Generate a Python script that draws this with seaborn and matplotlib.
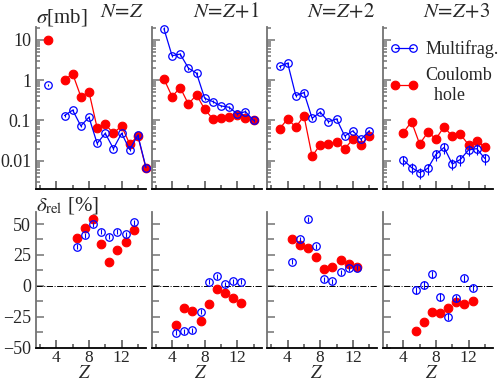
import pandas as pd
import seaborn as sns
import matplotlib
matplotlib.use('Agg')
import matplotlib.pyplot as plt
from matplotlib.ticker import MultipleLocator, LogLocator, NullFormatter, FuncFormatter

# panel titles
titles = [r'$N\!=\!Z$', r'$N\!=\!Z\!+\!1$', r'$N\!=\!Z\!+\!2$', r'$N\!=\!Z\!+\!3$']

# top row: cross sections [mb]
z_top = [
    [3, 5, 6, 7, 8, 9, 10, 11, 12, 13, 14, 15],
    [3, 4, 5, 6, 7, 8, 9, 10, 11, 12, 13, 14],
    [3, 4, 5, 6, 7, 8, 9, 10, 11, 12, 13, 14],
    [4, 5, 6, 7, 8, 9, 10, 11, 12, 13, 14],
]
multi_sigma = [
    [0.76, 0.132, 0.18, 0.073, 0.12, 0.027, 0.048, 0.020, 0.048, 0.019, 0.043, 0.0068],
    [18.7, 4.0, 4.4, 1.98, 1.48, 0.355, 0.293, 0.229, 0.212, 0.145, 0.165, 0.10],
    [2.17, 2.63, 0.41, 0.49, 0.113, 0.16, 0.093, 0.109, 0.041, 0.055, 0.034, 0.055],
    [0.0104, 0.0068, 0.0051, 0.0065, 0.0144, 0.0214, 0.0083, 0.0108, 0.0186, 0.020, 0.0114],
]
coul_sigma = [
    [10.0, 1.0, 1.43, 0.39, 0.51, 0.066, 0.080, 0.048, 0.073, 0.026, 0.041, 0.0065],
    [1.07, 0.39, 0.65, 0.255, 0.43, 0.19, 0.109, 0.113, 0.12, 0.137, 0.113, 0.10],
    [0.062, 0.109, 0.068, 0.13, 0.013, 0.025, 0.026, 0.029, 0.020, 0.034, 0.025, 0.042],
    [0.050, 0.093, 0.026, 0.051, 0.035, 0.070, 0.040, 0.045, 0.025, 0.031, 0.022],
]
line_start = [5, 3, 3, 4]          # first Z joined by a line
multi_err_frac = [0.08, 0.08, 0.08, 0.3]
coul_err_frac = [0.04, 0.04, 0.04, 0.2]

# bottom row: relative deviation [%]
z_bot = [
    [6.5, 7.5, 8.5, 9.5, 10.5, 11.5, 12.5, 13.5],
    [4.5, 5.5, 6.5, 7.5, 8.5, 9.5, 10.5, 11.5, 12.5],
    [4.5, 5.5, 6.5, 7.5, 8.5, 9.5, 10.5, 11.5, 12.5],
    [5.5, 6.5, 7.5, 8.5, 9.5, 10.5, 11.5, 12.5],
]
multi_rel = [
    [31.7, 41, 49.8, 43.8, 39.8, 43.8, 41.7, 51.5],
    [-38, -36.7, -35.9, -21, 3.2, 7.8, 1.1, 3.8, 3.2],
    [19.4, 37.5, 53.7, 32.1, 5.4, 3.8, 10.8, 14, 14.6],
    [-3.8, 0.5, 9.2, -9.2, -25.1, -10.2, 5.9, -1.6],
]
coul_rel = [
    [38.5, 46.6, 53.9, 33.8, 19, 29, 35.7, 45.2],
    [-31.8, -18.3, -20.5, -28.6, -15.1, -2.7, -6.2, -10.2, -14.3],
    [37.5, 33.4, 30.2, 23.5, 13.2, 15.4, 20.8, 17.8, 15.1],
    [-36.4, -29.1, -21, -22.4, -18.3, -13.5, -14.6, -12.1],
]
multi_rel_err = [2, 2, 2, 3]

sns.set_style('ticks')
plt.rcParams['font.family'] = ['Liberation Serif', 'DejaVu Serif']
plt.rcParams['mathtext.fontset'] = 'stix'

W, H = 498, 382
fig = plt.figure(figsize=(W / 100, H / 100), dpi=100)
lefts = [36, 151.7, 267.3, 383]
pw = 110
top_axes = [fig.add_axes([l / W, (H - 189) / H, pw / W, (189 - 26.7) / H]) for l in lefts]
bot_axes = [fig.add_axes([l / W, (H - 347.5) / H, pw / W, (347.5 - 211.7) / H]) for l in lefts]

red_kw = dict(color='red', marker='o', markersize=6.2, markerfacecolor='red',
              markeredgecolor='red', markeredgewidth=0.8, linewidth=0.9)
blue_kw = dict(color='blue', marker='o', markersize=5.4, markerfacecolor='none',
               markeredgecolor='blue', markeredgewidth=0.9, linewidth=0.9)


def style_axes(ax):
    ax.spines['top'].set_visible(False)
    ax.spines['right'].set_visible(False)
    ax.spines['left'].set_color('0.45')
    ax.spines['left'].set_linewidth(1.3)
    ax.spines['bottom'].set_color('black')
    ax.spines['bottom'].set_linewidth(1.3)
    ax.tick_params(which='both', direction='in', top=False, right=False, labelsize=13)
    ax.tick_params(axis='y', which='both', color='0.45', width=1.1)
    ax.tick_params(axis='x', which='both', color='0.3', width=1.1)
    ax.tick_params(which='major', length=5.5)
    ax.tick_params(which='minor', length=3)
    ax.xaxis.set_major_locator(MultipleLocator(4))
    ax.xaxis.set_minor_locator(MultipleLocator(2))
    ax.set_xlim(1.5, 15)


for i, ax in enumerate(top_axes):
    df = pd.DataFrame({'Z': z_top[i], 'multi': multi_sigma[i], 'coul': coul_sigma[i]})
    # isolated points before the connected run
    iso = df[df['Z'] < line_start[i]]
    run = df[df['Z'] >= line_start[i]]
    for part in (iso, run):
        if len(part) == 0:
            continue
        ls = '-' if part is run else 'none'
        sns.lineplot(data=part, x='Z', y='coul', ax=ax, sort=False, estimator=None,
                     legend=False, linestyle=ls, clip_on=False, zorder=3,
                     label='Coulomb\n  hole' if (i == 3 and part is run) else None, **red_kw)
        sns.lineplot(data=part, x='Z', y='multi', ax=ax, sort=False, estimator=None,
                     legend=False, linestyle=ls, clip_on=False, zorder=4,
                     label='Multifrag.' if (i == 3 and part is run) else None, **blue_kw)
    ax.errorbar(df['Z'], df['coul'], yerr=df['coul'] * coul_err_frac[i], fmt='none',
                ecolor='red', elinewidth=0.8, zorder=2)
    ax.errorbar(df['Z'], df['multi'], yerr=df['multi'] * multi_err_frac[i], fmt='none',
                ecolor='blue', elinewidth=0.8, zorder=5)
    ax.set_yscale('log')
    ax.set_ylim(0.002, 21)
    style_axes(ax)
    ax.yaxis.set_major_locator(LogLocator(base=10, numticks=10))
    ax.yaxis.set_minor_locator(LogLocator(base=10, subs=range(2, 10), numticks=50))
    ax.yaxis.set_minor_formatter(NullFormatter())
    ax.tick_params(which='major', length=6)
    ax.set_xlabel('')
    ax.set_ylabel('')
    ax.tick_params(labelbottom=False)
    if i == 0:
        ax.set_yticks([0.01, 0.1, 1, 10])
        ax.set_yticklabels(['0.01', '0.1', '1', '10'])
    else:
        ax.tick_params(labelleft=False)
    fig.text((lefts[i] + pw - 2) / W, 1 - 17 / H, titles[i], ha='right', va='baseline',
             fontsize=15)

for i, ax in enumerate(bot_axes):
    df = pd.DataFrame({'Z': z_bot[i], 'multi': multi_rel[i], 'coul': coul_rel[i]})
    ax.axhline(0, color='black', linewidth=0.7, linestyle='-.', zorder=1)
    sns.lineplot(data=df, x='Z', y='coul', ax=ax, sort=False, estimator=None, legend=False,
                 linestyle='none', zorder=3, **red_kw)
    sns.lineplot(data=df, x='Z', y='multi', ax=ax, sort=False, estimator=None, legend=False,
                 linestyle='none', zorder=4, **blue_kw)
    ax.errorbar(df['Z'], df['multi'], yerr=multi_rel_err[i], fmt='none', ecolor='blue',
                elinewidth=0.8, zorder=5)
    ax.set_ylim(-50, 60)
    style_axes(ax)
    ax.yaxis.set_major_locator(MultipleLocator(25))
    ax.yaxis.set_minor_locator(MultipleLocator(12.5))
    ax.tick_params(axis='y', which='minor', length=5)
    ax.xaxis.set_major_formatter(FuncFormatter(lambda v, p: r'$\mathregular{%d}$' % v))
    ax.set_ylabel('')
    ax.set_xlabel('')
    ax.tick_params(axis='x', pad=1.5, labelsize=12.5)
    if i != 0:
        ax.tick_params(labelleft=False)
    fig.text((lefts[i] + pw / 2 - 6) / W, 0.5 / H, '$Z$', ha='center', va='bottom',
             fontsize=13.5)

fig.text(36 / W, 1 - 22 / H, r'$\sigma$[mb]', ha='left', va='baseline', fontsize=15)
fig.text(36 / W, 1 - 210 / H, r'$\delta_{\rm rel}$ [%]', ha='left', va='baseline', fontsize=15)

handles, labels = top_axes[3].get_legend_handles_labels()
order = [labels.index('Multifrag.'), labels.index('Coulomb\n  hole')]
leg = top_axes[3].legend([handles[k] for k in order], [labels[k] for k in order],
                         loc='upper left', bbox_to_anchor=(390 / W, 1 - 40 / H),
                         bbox_transform=fig.transFigure, frameon=False, fontsize=13,
                         borderpad=0, borderaxespad=0, handlelength=1.6,
                         handletextpad=0.35, numpoints=2, labelspacing=0.5)

fig.savefig('out.png', dpi=100)
